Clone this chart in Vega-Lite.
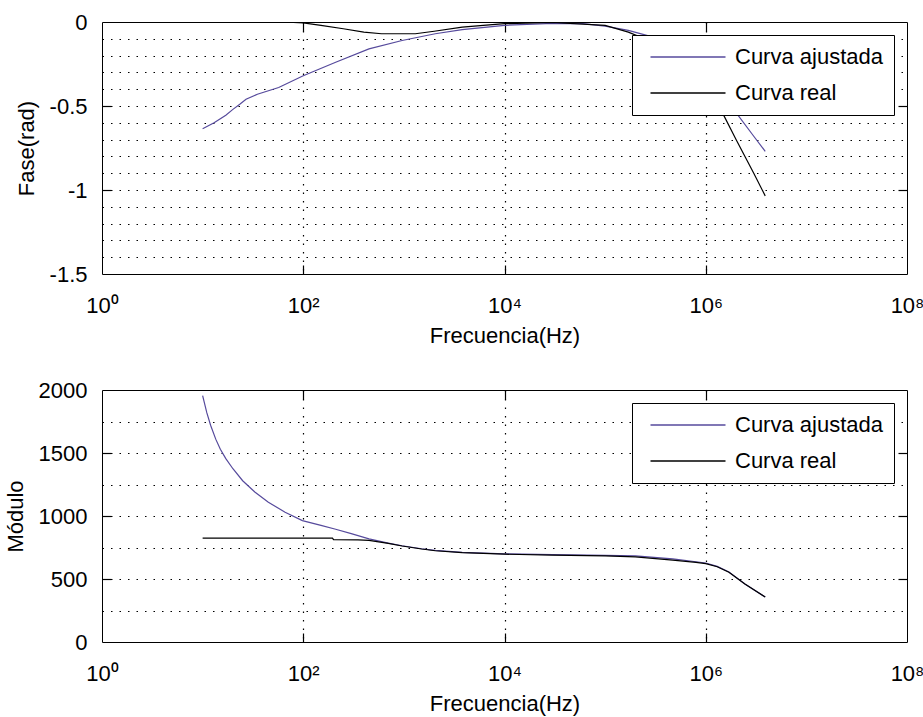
{
  "$schema": "https://vega.github.io/schema/vega-lite/v6.json",
  "background": "#ffffff",
  "padding": {"left": 3, "top": 10, "right": 5, "bottom": 2},
  "bounds": "flush",
  "spacing": 116,
  "config": {
    "font": "Liberation Sans",
    "view": {"stroke": "#000000", "strokeWidth": 1},
    "axis": {
      "labelFont": "Liberation Sans",
      "labelFontSize": 22,
      "labelColor": "#000000",
      "titleFont": "Liberation Sans",
      "titleFontSize": 22,
      "titleFontWeight": "normal",
      "titleColor": "#000000",
      "domain": false,
      "tickColor": "#000000",
      "tickSize": -9,
      "tickWidth": 1.2,
      "gridColor": "#000000",
      "gridDash": [1.5, 7],
      "gridWidth": 1.2
    },
    "legend": {
      "labelFont": "Liberation Sans",
      "labelFontSize": 22,
      "labelColor": "#000000",
      "strokeColor": "#000000",
      "fillColor": "#ffffff",
      "padding": 11,
      "symbolType": "M-3.75,0H3.75",
      "symbolSize": 400,
      "symbolStrokeWidth": 1.3,
      "symbolOffset": 34,
      "labelOffset": 36,
      "rowPadding": 14,
      "orient": "top-right",
      "offset": 13
    }
  },
  "resolve": {"legend": {"color": "independent"}, "scale": {"color": "independent"}},
  "datasets": {
    "fase": [
      {"f": 10, "v": -0.635, "curva": "Curva ajustada"},
      {"f": 13, "v": -0.6, "curva": "Curva ajustada"},
      {"f": 17, "v": -0.555, "curva": "Curva ajustada"},
      {"f": 20, "v": -0.52, "curva": "Curva ajustada"},
      {"f": 23.4, "v": -0.49, "curva": "Curva ajustada"},
      {"f": 27, "v": -0.46, "curva": "Curva ajustada"},
      {"f": 35, "v": -0.43, "curva": "Curva ajustada"},
      {"f": 57, "v": -0.39, "curva": "Curva ajustada"},
      {"f": 100, "v": -0.32, "curva": "Curva ajustada"},
      {"f": 210, "v": -0.24, "curva": "Curva ajustada"},
      {"f": 450, "v": -0.16, "curva": "Curva ajustada"},
      {"f": 960, "v": -0.11, "curva": "Curva ajustada"},
      {"f": 2050, "v": -0.07, "curva": "Curva ajustada"},
      {"f": 3800, "v": -0.045, "curva": "Curva ajustada"},
      {"f": 10000, "v": -0.02, "curva": "Curva ajustada"},
      {"f": 30000, "v": -0.008, "curva": "Curva ajustada"},
      {"f": 60000, "v": -0.01, "curva": "Curva ajustada"},
      {"f": 100000, "v": -0.025, "curva": "Curva ajustada"},
      {"f": 170000, "v": -0.05, "curva": "Curva ajustada"},
      {"f": 300000, "v": -0.09, "curva": "Curva ajustada"},
      {"f": 500000, "v": -0.15, "curva": "Curva ajustada"},
      {"f": 1000000, "v": -0.31, "curva": "Curva ajustada"},
      {"f": 2000000, "v": -0.54, "curva": "Curva ajustada"},
      {"f": 3000000, "v": -0.68, "curva": "Curva ajustada"},
      {"f": 3900000, "v": -0.77, "curva": "Curva ajustada"},
      {"f": 60, "v": 0.0, "curva": "Curva real"},
      {"f": 80, "v": -0.002, "curva": "Curva real"},
      {"f": 100, "v": -0.005, "curva": "Curva real"},
      {"f": 150, "v": -0.02, "curva": "Curva real"},
      {"f": 250, "v": -0.04, "curva": "Curva real"},
      {"f": 400, "v": -0.06, "curva": "Curva real"},
      {"f": 600, "v": -0.07, "curva": "Curva real"},
      {"f": 1300, "v": -0.07, "curva": "Curva real"},
      {"f": 2000, "v": -0.055, "curva": "Curva real"},
      {"f": 3800, "v": -0.03, "curva": "Curva real"},
      {"f": 10000, "v": -0.01, "curva": "Curva real"},
      {"f": 30000, "v": -0.003, "curva": "Curva real"},
      {"f": 100000, "v": -0.02, "curva": "Curva real"},
      {"f": 170000, "v": -0.06, "curva": "Curva real"},
      {"f": 300000, "v": -0.12, "curva": "Curva real"},
      {"f": 600000, "v": -0.24, "curva": "Curva real"},
      {"f": 1000000, "v": -0.35, "curva": "Curva real"},
      {"f": 1450000, "v": -0.535, "curva": "Curva real"},
      {"f": 2000000, "v": -0.7, "curva": "Curva real"},
      {"f": 3000000, "v": -0.9, "curva": "Curva real"},
      {"f": 3900000, "v": -1.035, "curva": "Curva real"}
    ],
    "modulo": [
      {"f": 10, "v": 1955, "curva": "Curva ajustada"},
      {"f": 11, "v": 1820, "curva": "Curva ajustada"},
      {"f": 12, "v": 1720, "curva": "Curva ajustada"},
      {"f": 13.5, "v": 1610, "curva": "Curva ajustada"},
      {"f": 15, "v": 1530, "curva": "Curva ajustada"},
      {"f": 17, "v": 1455, "curva": "Curva ajustada"},
      {"f": 20, "v": 1375, "curva": "Curva ajustada"},
      {"f": 25, "v": 1280, "curva": "Curva ajustada"},
      {"f": 33, "v": 1190, "curva": "Curva ajustada"},
      {"f": 45, "v": 1110, "curva": "Curva ajustada"},
      {"f": 66, "v": 1030, "curva": "Curva ajustada"},
      {"f": 98, "v": 963, "curva": "Curva ajustada"},
      {"f": 150, "v": 925, "curva": "Curva ajustada"},
      {"f": 210, "v": 895, "curva": "Curva ajustada"},
      {"f": 300, "v": 860, "curva": "Curva ajustada"},
      {"f": 450, "v": 818, "curva": "Curva ajustada"},
      {"f": 700, "v": 785, "curva": "Curva ajustada"},
      {"f": 960, "v": 764, "curva": "Curva ajustada"},
      {"f": 1500, "v": 740, "curva": "Curva ajustada"},
      {"f": 2050, "v": 727, "curva": "Curva ajustada"},
      {"f": 3800, "v": 712, "curva": "Curva ajustada"},
      {"f": 10000, "v": 700, "curva": "Curva ajustada"},
      {"f": 30000, "v": 693, "curva": "Curva ajustada"},
      {"f": 100000, "v": 688, "curva": "Curva ajustada"},
      {"f": 200000, "v": 683, "curva": "Curva ajustada"},
      {"f": 470000, "v": 659, "curva": "Curva ajustada"},
      {"f": 800000, "v": 637, "curva": "Curva ajustada"},
      {"f": 1000000, "v": 627, "curva": "Curva ajustada"},
      {"f": 1300000, "v": 600, "curva": "Curva ajustada"},
      {"f": 1700000, "v": 555, "curva": "Curva ajustada"},
      {"f": 2450000, "v": 460, "curva": "Curva ajustada"},
      {"f": 3900000, "v": 357, "curva": "Curva ajustada"},
      {"f": 10, "v": 825, "curva": "Curva real"},
      {"f": 195, "v": 825, "curva": "Curva real"},
      {"f": 200, "v": 812, "curva": "Curva real"},
      {"f": 350, "v": 810, "curva": "Curva real"},
      {"f": 450, "v": 806, "curva": "Curva real"},
      {"f": 700, "v": 783, "curva": "Curva real"},
      {"f": 960, "v": 762, "curva": "Curva real"},
      {"f": 1500, "v": 738, "curva": "Curva real"},
      {"f": 2050, "v": 724, "curva": "Curva real"},
      {"f": 3800, "v": 709, "curva": "Curva real"},
      {"f": 10000, "v": 697, "curva": "Curva real"},
      {"f": 30000, "v": 690, "curva": "Curva real"},
      {"f": 100000, "v": 684, "curva": "Curva real"},
      {"f": 200000, "v": 676, "curva": "Curva real"},
      {"f": 470000, "v": 650, "curva": "Curva real"},
      {"f": 800000, "v": 632, "curva": "Curva real"},
      {"f": 1000000, "v": 622, "curva": "Curva real"},
      {"f": 1300000, "v": 597, "curva": "Curva real"},
      {"f": 1700000, "v": 553, "curva": "Curva real"},
      {"f": 2450000, "v": 460, "curva": "Curva real"},
      {"f": 3900000, "v": 357, "curva": "Curva real"}
    ]
  },
  "vconcat": [
    {
      "width": 805,
      "height": 252,
      "data": {"name": "fase"},
      "resolve": {"axis": {"x": "independent", "y": "independent"}},
      "layer": [
        {
          "mark": {"type": "line", "opacity": 0},
          "encoding": {
            "x": {
              "field": "f", "type": "quantitative",
              "scale": {"type": "log", "domain": [1, 100000000]},
              "axis": {"orient": "bottom", "title": null, "labels": false, "ticks": true, "grid": true,
                "values": [100, 10000, 1000000]}
            },
            "y": {
              "field": "v", "type": "quantitative",
              "scale": {"domain": [-1.5, 0], "nice": false, "zero": false},
              "axis": {"orient": "left", "title": null, "labels": false, "ticks": false, "grid": true,
                "values": [-1.4, -1.3, -1.2, -1.1, -1.0, -0.9, -0.8, -0.7, -0.6, -0.5, -0.4, -0.3, -0.2, -0.1]}
            },
            "detail": {"field": "curva"}
          }
        },
        {
          "mark": {"type": "line", "strokeWidth": 1.2, "clip": true},
          "encoding": {
            "x": {
              "field": "f", "type": "quantitative",
              "axis": {
                "orient": "bottom",
                "title": "Frecuencia(Hz)",
                "values": [1, 100, 10000, 1000000, 100000000],
                "labelExpr": "datum.value == 1 ? '10⁰' : datum.value == 100 ? '10²' : datum.value == 10000 ? '10⁴' : datum.value == 1000000 ? '10⁶' : '10⁸'",
                "labelPadding": 21,
                "titlePadding": 9,
                "ticks": false,
                "grid": false,
                "labelFlush": false
              }
            },
            "y": {
              "field": "v", "type": "quantitative",
              "axis": {
                "orient": "left",
                "title": "Fase(rad)",
                "values": [-1.5, -1, -0.5, 0],
                "labelExpr": "replace(format(datum.value, '~g'), '−', '-')",
                "labelPadding": 15,
                "titlePadding": 11,
                "ticks": false,
                "grid": false,
                "labelFlush": false
              }
            },
            "color": {
              "field": "curva", "type": "nominal",
              "scale": {"domain": ["Curva ajustada", "Curva real"], "range": ["#564a9c", "#000000"]},
              "legend": {"title": null}
            }
          }
        },
        {
          "mark": {"type": "line", "opacity": 0},
          "encoding": {
            "x": {
              "field": "f", "type": "quantitative",
              "axis": {"orient": "top", "title": null, "labels": false, "grid": false, "values": [100, 10000, 1000000]}
            },
            "y": {
              "field": "v", "type": "quantitative",
              "axis": {"orient": "right", "title": null, "labels": false, "grid": false, "values": [-1, -0.5]}
            },
            "detail": {"field": "curva"}
          }
        },
        {
          "mark": {"type": "line", "opacity": 0},
          "encoding": {
            "y": {
              "field": "v", "type": "quantitative",
              "axis": {"orient": "left", "title": null, "labels": false, "grid": false, "ticks": true, "values": [-1, -0.5]}
            },
            "detail": {"field": "curva"}
          }
        }
      ]
    },
    {
      "width": 805,
      "height": 252,
      "data": {"name": "modulo"},
      "resolve": {"axis": {"x": "independent", "y": "independent"}},
      "layer": [
        {
          "mark": {"type": "line", "opacity": 0},
          "encoding": {
            "x": {
              "field": "f", "type": "quantitative",
              "scale": {"type": "log", "domain": [1, 100000000]},
              "axis": {"orient": "bottom", "title": null, "labels": false, "ticks": true, "grid": true,
                "values": [100, 10000, 1000000]}
            },
            "y": {
              "field": "v", "type": "quantitative",
              "scale": {"domain": [0, 2000], "nice": false},
              "axis": {"orient": "left", "title": null, "labels": false, "ticks": false, "grid": true,
                "values": [250, 500, 750, 1000, 1250, 1500, 1750]}
            },
            "detail": {"field": "curva"}
          }
        },
        {
          "mark": {"type": "line", "strokeWidth": 1.2, "clip": true},
          "encoding": {
            "x": {
              "field": "f", "type": "quantitative",
              "axis": {
                "orient": "bottom",
                "title": "Frecuencia(Hz)",
                "values": [1, 100, 10000, 1000000, 100000000],
                "labelExpr": "datum.value == 1 ? '10⁰' : datum.value == 100 ? '10²' : datum.value == 10000 ? '10⁴' : datum.value == 1000000 ? '10⁶' : '10⁸'",
                "labelPadding": 21,
                "titlePadding": 9,
                "ticks": false,
                "grid": false,
                "labelFlush": false
              }
            },
            "y": {
              "field": "v", "type": "quantitative",
              "axis": {
                "orient": "left",
                "title": "Módulo",
                "values": [0, 500, 1000, 1500, 2000],
                "format": "d",
                "labelPadding": 15,
                "titlePadding": 11,
                "ticks": false,
                "grid": false,
                "labelFlush": false
              }
            },
            "color": {
              "field": "curva", "type": "nominal",
              "scale": {"domain": ["Curva ajustada", "Curva real"], "range": ["#564a9c", "#000000"]},
              "legend": {"title": null}
            }
          }
        },
        {
          "mark": {"type": "line", "opacity": 0},
          "encoding": {
            "x": {
              "field": "f", "type": "quantitative",
              "axis": {"orient": "top", "title": null, "labels": false, "grid": false, "values": [100, 10000, 1000000]}
            },
            "y": {
              "field": "v", "type": "quantitative",
              "axis": {"orient": "right", "title": null, "labels": false, "grid": false, "values": [500, 1000, 1500]}
            },
            "detail": {"field": "curva"}
          }
        },
        {
          "mark": {"type": "line", "opacity": 0},
          "encoding": {
            "y": {
              "field": "v", "type": "quantitative",
              "axis": {"orient": "left", "title": null, "labels": false, "grid": false, "ticks": true, "values": [500, 1000, 1500]}
            },
            "detail": {"field": "curva"}
          }
        }
      ]
    }
  ]
}
